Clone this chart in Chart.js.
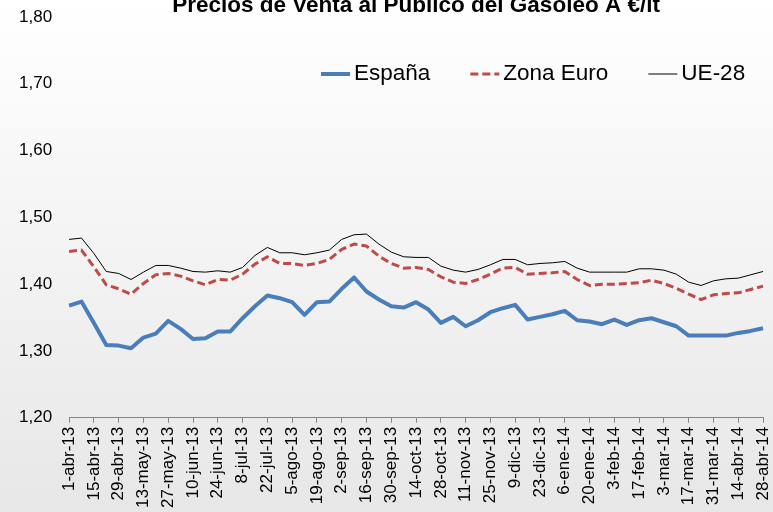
<!DOCTYPE html>
<html>
<head>
<meta charset="utf-8">
<script src="https://cdn.jsdelivr.net/npm/chart.js@4/dist/chart.umd.min.js"></script>
<style>
  body { margin: 0; }
  #wrap {
    width: 773px; height: 512px; position: relative;
    background: linear-gradient(to bottom, #ffffff 0%, #e7e7e7 100%);
  }
</style>
</head>
<body>
<div id="wrap"><canvas id="gasoleoChart"></canvas></div>
<script>
// semanas (lunes) de abr-13 a abr-14
var weeks = [
    '1-abr-13', '8-abr-13', '15-abr-13', '22-abr-13', '29-abr-13',
    '6-may-13', '13-may-13', '20-may-13', '27-may-13',
    '3-jun-13', '10-jun-13', '17-jun-13', '24-jun-13',
    '1-jul-13', '8-jul-13', '15-jul-13', '22-jul-13', '29-jul-13',
    '5-ago-13', '12-ago-13', '19-ago-13', '26-ago-13',
    '2-sep-13', '9-sep-13', '16-sep-13', '23-sep-13', '30-sep-13',
    '7-oct-13', '14-oct-13', '21-oct-13', '28-oct-13',
    '4-nov-13', '11-nov-13', '18-nov-13', '25-nov-13',
    '2-dic-13', '9-dic-13', '16-dic-13', '23-dic-13', '30-dic-13',
    '6-ene-14', '13-ene-14', '20-ene-14', '27-ene-14',
    '3-feb-14', '10-feb-14', '17-feb-14', '24-feb-14',
    '3-mar-14', '10-mar-14', '17-mar-14', '24-mar-14', '31-mar-14',
    '7-abr-14', '14-abr-14', '21-abr-14', '28-abr-14'
];

var espana = [
    1.368, 1.374, 1.342, 1.309, 1.308, 1.304, 1.320, 1.326, 1.345, 1.333,
    1.318, 1.319, 1.329, 1.329, 1.349, 1.367, 1.383, 1.379, 1.373, 1.354,
    1.373, 1.374, 1.393, 1.410, 1.389, 1.377, 1.367, 1.365, 1.373, 1.362,
    1.342, 1.351, 1.337, 1.346, 1.358, 1.364, 1.369, 1.347, 1.351, 1.355,
    1.360, 1.346, 1.344, 1.340, 1.347, 1.339, 1.346, 1.349, 1.343, 1.337,
    1.323, 1.323, 1.323, 1.323, 1.327, 1.330, 1.334
];

var zonaEuro = [
    1.449, 1.451, 1.426, 1.399, 1.393, 1.385, 1.401, 1.414, 1.416, 1.412,
    1.405, 1.399, 1.407, 1.406, 1.415, 1.430, 1.441, 1.431, 1.431, 1.428,
    1.431, 1.437, 1.452, 1.460, 1.457, 1.442, 1.431, 1.424, 1.425, 1.422,
    1.411, 1.403, 1.401, 1.407, 1.415, 1.424, 1.425, 1.415, 1.416, 1.417,
    1.419, 1.407, 1.398, 1.400, 1.400, 1.401, 1.402, 1.406, 1.401, 1.394,
    1.385, 1.377, 1.384, 1.386, 1.387, 1.392, 1.397
];

var ue28 = [
    1.467, 1.469, 1.446, 1.419, 1.416, 1.407, 1.418, 1.428, 1.428, 1.424,
    1.419, 1.418, 1.420, 1.418, 1.425, 1.443, 1.455, 1.447, 1.447, 1.444,
    1.447, 1.451, 1.467, 1.474, 1.475, 1.460, 1.448, 1.441, 1.440, 1.440,
    1.427, 1.421, 1.418, 1.422, 1.429, 1.437, 1.437, 1.429, 1.431, 1.432,
    1.434, 1.424, 1.418, 1.418, 1.418, 1.418, 1.423, 1.423, 1.421, 1.415,
    1.403, 1.398, 1.405, 1.408, 1.409, 1.414, 1.419
];

var FONT = '"Liberation Sans", Arial, sans-serif';

// leyenda dentro del area del grafico, como en el original
var lineLegend = {
    id: 'lineLegend',
    afterDraw: function(chart) {
        var ctx = chart.ctx;
        var x = 321, y = 74;
        ctx.save();
        ctx.font = '22.5px ' + FONT;
        ctx.textBaseline = 'middle';
        chart.data.datasets.forEach(function(ds) {
            ctx.strokeStyle = ds.borderColor;
            ctx.lineWidth = ds.borderWidth;
            ctx.setLineDash(ds.borderDash || []);
            ctx.beginPath();
            ctx.moveTo(x, y);
            ctx.lineTo(x + 29, y);
            ctx.stroke();
            ctx.setLineDash([]);
            ctx.fillStyle = '#000';
            ctx.fillText(ds.label, x + 33, y);
            x += 33 + ctx.measureText(ds.label).width + 40;
        });
        ctx.restore();
    }
};

var ctx = document.getElementById('gasoleoChart').getContext('2d');
var myChart = new Chart(ctx, {
    type: 'line',
    data: {
        labels: weeks,
        datasets: [{
            label: 'España',
            data: espana,
            borderColor: '#4a7ebb',
            borderWidth: 4
        }, {
            label: 'Zona Euro',
            data: zonaEuro,
            borderColor: '#be4b48',
            borderWidth: 3,
            borderDash: [8, 4]
        }, {
            label: 'UE-28',
            data: ue28,
            borderColor: '#000000',
            borderWidth: 1
        }]
    },
    options: {
        responsive: true,
        maintainAspectRatio: false,
        animation: false,
        elements: {
            point: { radius: 0 },
            line: { tension: 0, borderJoinStyle: 'round', fill: false }
        },
        layout: {
            padding: { left: 16, right: 0, top: 0, bottom: 0 }
        },
        scales: {
            x: {
                offset: false,
                grid: {
                    drawOnChartArea: false,
                    tickLength: 5,
                    color: '#868686'
                },
                border: { color: '#868686' },
                ticks: {
                    autoSkip: false,
                    maxRotation: 90,
                    minRotation: 90,
                    padding: 4,
                    color: '#000',
                    font: { family: FONT, size: 17, lineHeight: 0.35 },
                    callback: function(value, index) {
                        return index % 2 === 0 ? this.getLabelForValue(value) : null;
                    }
                }
            },
            y: {
                min: 1.2,
                max: 1.8,
                grid: { display: false, drawTicks: true, tickLength: 14 },
                border: { display: false },
                ticks: {
                    stepSize: 0.1,
                    padding: 3,
                    color: '#000',
                    font: { family: FONT, size: 17 },
                    callback: function(value) {
                        return value.toFixed(2).replace('.', ',');
                    }
                }
            }
        },
        plugins: {
            legend: { display: false },
            tooltip: { enabled: false },
            title: {
                display: true,
                text: 'Precios de Venta al Público del Gasóleo A €/lt',
                fullSize: false,
                color: '#000',
                font: { family: FONT, size: 22.5, weight: 'bold' },
                padding: { top: -8, bottom: -2 }
            }
        }
    },
    plugins: [lineLegend]
});
</script>
</body>
</html>
